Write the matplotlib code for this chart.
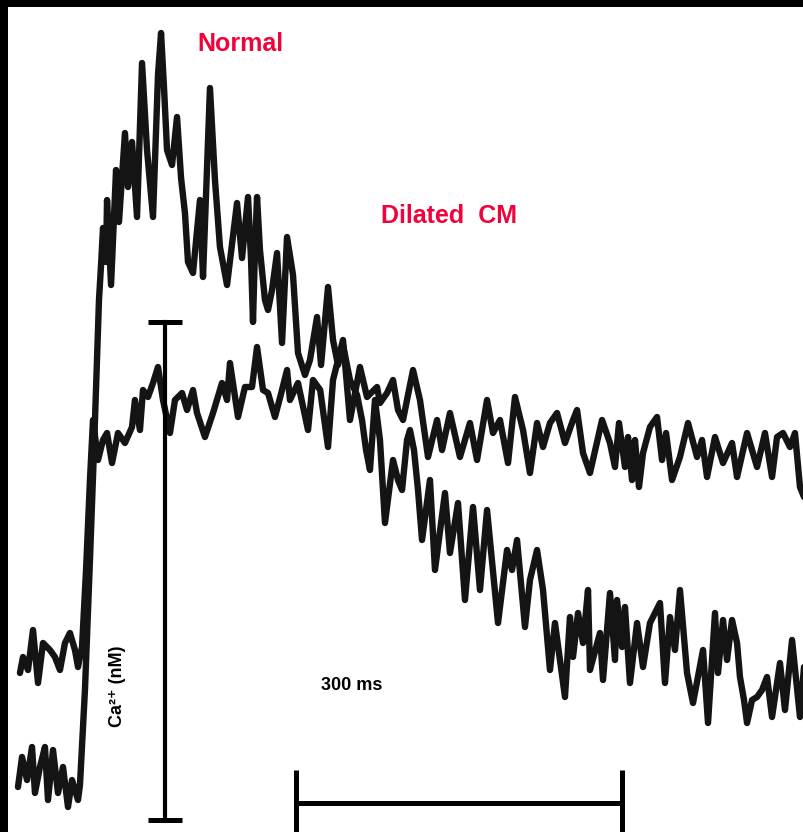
import numpy as np
import matplotlib
matplotlib.use("Agg")
import matplotlib.pyplot as plt

# Ca2+ transients, time in ms, Ca2+ in nM (scale bar = 498 nM)

# normal myocyte
t_normal = [0, 3.7, 8.3, 12.9, 15.6, 20.2, 24.8, 27.6, 32.2, 36.8, 41.4, 46.0, 49.7, 55.2, 57.0,
            61.6, 66.2, 69.9, 72.7, 74.5, 76.4, 78.2, 81.0, 81.9, 85.6, 90.2, 92.9, 98.4, 101.2,
            104.9, 109.5, 114.1, 118.7, 124.2, 128.8, 131.6, 134.3, 137.1, 141.7, 146.3, 150.0,
            153.6, 156.4, 161.0, 167.4, 170.2, 176.6, 181.2, 185.8, 192.3, 201.5, 206.1, 211.6,
            214.4, 216.2, 218.0, 219.9, 222.6, 227.2, 230.0, 233.7, 238.3, 242.9, 247.5, 253.0,
            257.6, 264.0, 268.6, 275.1, 278.8, 285.2, 289.8, 294.4, 299.0, 305.4, 311.9, 316.5,
            320.2, 323.8, 328.4, 333.0, 337.6, 345.0, 349.6, 353.3, 357.9, 360.6, 364.3, 368.0,
            371.7, 379.0, 383.6, 392.8, 397.4, 404.8, 411.2, 418.6, 425.0, 431.5, 441.6, 449.9,
            454.5, 459.1, 466.4, 471.0, 477.5, 483.0, 489.4, 494.0, 503.2, 507.8, 510.6, 515.2,
            519.8, 524.4, 526.2, 535.4, 538.2, 544.6, 549.2, 551.1, 555.7, 558.4, 563.0, 569.5,
            575.0, 581.4, 590.6, 595.2, 599.8, 604.4, 609.0, 615.5, 621.0, 630.2, 634.8, 641.2,
            644.0, 648.6, 652.3, 656.9, 661.5, 664.2, 667.9, 670.7, 675.3, 679.9, 684.5, 689.1,
            693.7, 701.0, 705.6, 712.1, 719.4, 723.1]
ca_normal = [33, 63, 40, 73, 27, 53, 73, 20, 70, 27, 53, 13, 40, 20, 35,
             130, 260, 370, 460, 520, 555, 592, 558, 620, 535, 650, 598, 687, 633,
             678, 603, 757, 670, 603, 745, 787, 733, 670, 655, 703, 642,
             607, 558, 547, 620, 543, 732, 640, 573, 535, 617, 562, 623,
             560, 498, 570, 623, 570, 520, 510, 530, 567, 477, 583, 545,
             467, 445, 460, 503, 455, 533, 480, 455, 475, 440, 425, 400,
             370, 350, 420, 380, 297, 360, 340, 330, 380, 390, 370, 330,
             280, 340, 250, 327, 267, 317, 220, 313, 230, 310, 197, 270,
             250, 280, 193, 240, 270, 230, 150, 197, 123, 203, 163, 207,
             177, 230, 150, 187, 140, 227, 160, 220, 173, 213, 137, 197,
             153, 197, 217, 137, 203, 170, 230, 147, 117, 170, 97, 207,
             147, 200, 160, 200, 177, 143, 120, 97, 120, 123, 130, 143,
             103, 157, 110, 180, 103, 153]

# dilated cardiomyopathy myocyte
t_dcm = [1.8, 4.6, 9.2, 13.8, 18.4, 23.0, 29.4, 34.0, 38.6, 43.2, 47.8, 52.4, 55.2, 58.9,
         62.6, 66.2, 69.0, 73.6, 78.2, 81.9, 86.5, 92.0, 98.4, 104.9, 107.6, 112.2, 115.0,
         119.6, 124.2, 128.8, 133.4, 139.8, 144.4, 150.9, 155.5, 161.0, 164.7, 172.0, 179.4,
         187.7, 192.3, 195.0, 202.4, 208.8, 215.3, 219.9, 225.4, 230.0, 236.4, 242.9, 247.5,
         250.2, 257.6, 266.8, 271.4, 278.0, 285.2, 289.8, 299.0, 305.4, 314.6, 321.1, 330.3,
         333.0, 339.5, 345.0, 349.6, 354.2, 363.4, 369.8, 377.2, 385.5, 390.1, 397.4, 406.6,
         415.8, 422.3, 431.5, 437.0, 443.4, 450.8, 457.2, 464.6, 471.0, 477.5, 483.0, 489.4,
         495.9, 503.2, 510.6, 514.3, 519.8, 526.2, 537.3, 544.6, 549.2, 552.9, 558.4, 561.2,
         564.9, 567.6, 571.3, 575.0, 581.4, 587.9, 592.5, 596.2, 601.7, 609.0, 616.4, 624.7,
         629.3, 633.9, 641.2, 648.6, 656.9, 661.5, 670.7, 679.9, 687.2, 693.7, 698.3, 703.8,
         710.2, 714.8, 719.4, 723.1]
ca_dcm = [147, 163, 150, 190, 137, 177, 170, 163, 150, 177, 187, 170, 153, 173,
          250, 340, 400, 360, 380, 387, 357, 387, 377, 393, 420, 390, 430,
          423, 437, 453, 420, 387, 420, 427, 410, 430, 407, 383, 407,
          437, 420, 457, 403, 433, 433, 473, 430, 427, 403, 430, 450,
          420, 437, 390, 440, 430, 373, 440, 480, 400, 453, 423, 433,
          417, 427, 440, 410, 400, 450, 420, 363, 400, 370, 407, 363,
          397, 360, 420, 387, 400, 357, 423, 390, 347, 397, 373, 397,
          407, 377, 400, 410, 367, 347, 400, 377, 353, 397, 353, 383,
          340, 380, 333, 367, 393, 403, 360, 387, 340, 363, 397, 363,
          380, 343, 383, 357, 377, 343, 387, 353, 387, 343, 383, 387,
          373, 387, 333, 323]

# scale bars
ca_bar_t, ca_bar_lo, ca_bar_hi, ca_cap = 135.2, 0, 498, 15.6
time_bar_t0, time_bar_len, time_bar_ca = 255.8, 300, 17

red = '#f0033c'
trace = '#141414'

fig = plt.figure(figsize=(8.04, 8.32), dpi=100, facecolor='black')
ax = fig.add_axes([8 / 804, 0, 796 / 804, 825 / 832])
ax.set_facecolor('white')
for s in ax.spines.values():
    s.set_visible(False)
ax.set_xticks([])
ax.set_yticks([])

ax.plot(t_normal, ca_normal, color=trace, lw=4.6, solid_joinstyle='round', solid_capstyle='round')
ax.plot(t_dcm, ca_dcm, color=trace, lw=4.6, solid_joinstyle='round', solid_capstyle='round')

# Ca scale bar
ax.plot([ca_bar_t, ca_bar_t], [ca_bar_lo, ca_bar_hi], color='black', lw=3.0)
for y in (ca_bar_lo, ca_bar_hi):
    ax.plot([ca_bar_t - ca_cap, ca_bar_t + ca_cap], [y, y], color='black', lw=3.6, solid_capstyle='butt')

# time scale bar
t1 = time_bar_t0 + time_bar_len
ax.plot([time_bar_t0, t1], [time_bar_ca, time_bar_ca], color='black', lw=3.6, solid_capstyle='butt')
for x in (time_bar_t0, t1):
    ax.plot([x, x], [time_bar_ca + 33, -30], color='black', lw=3.6, solid_capstyle='butt')

fam = ['Liberation Sans', 'DejaVu Sans']
ax.text(204.2, 776, 'Normal', color=red, fontsize=18, fontweight='bold', family=fam,
        ha='center', va='center')
ax.text(396.5, 604, 'Dilated  CM', color=red, fontsize=18, fontweight='bold', family=fam,
        ha='center', va='center')
ax.text(307.3, 134, '300 ms', color='black', fontsize=13, fontweight='bold', family=fam,
        ha='center', va='center')
ax.text(91.1, 134, 'Ca²⁺ (nM)', color='black', fontsize=13, fontweight='bold', family=fam,
        ha='center', va='center', rotation=90)

ax.set_xlim(-9.2, 723.1)
ax.set_ylim(-12, 813)

fig.savefig('out.png', dpi=100, facecolor='black')
